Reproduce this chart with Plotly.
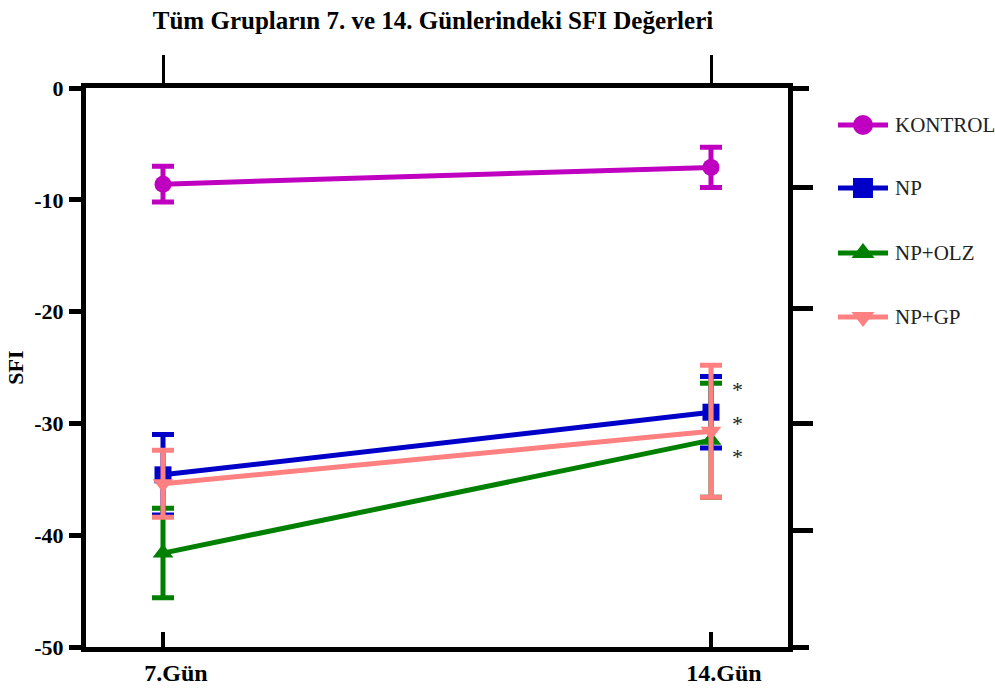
import plotly.graph_objects as go

# ---- data ----
days = ["7.Gün", "14.Gün"]
groups = ["KONTROL", "NP", "NP+OLZ", "NP+GP"]
kontrol_mean = [-8.6, -7.1]
kontrol_err = [1.6, 1.8]
np_mean = [-34.6, -29.0]
np_err = [3.6, 3.2]
olz_mean = [-41.6, -31.5]
olz_err = [4.0, 5.1]
gp_mean = [-35.4, -30.7]
gp_err = [3.0, 5.9]
star_y = [-27.0, -30.0, -33.0]
yticks = [0, -10, -20, -30, -40, -50]
right_ticks = [-8.9, -19.7, -30.0, -39.6]

means = [kontrol_mean, np_mean, olz_mean, gp_mean]
errs = [kontrol_err, np_err, olz_err, gp_err]
colors = ["#C000C0", "#0000C8", "#008000", "#FF8080"]
symbols = ["circle", "square", "triangle-up", "triangle-down"]
msizes = [17, 17, 18, 18]

W, H = 995, 691
FONT = "Liberation Serif"
xpos = list(range(len(days)))
XR = [-0.1405, 1.1405]
YR = [-50, 0]

fig = go.Figure()
for g, m, e, c, s, ms in zip(groups, means, errs, colors, symbols, msizes):
    fig.add_trace(go.Scatter(
        x=xpos, y=m, mode="lines+markers", name=g, showlegend=False,
        line=dict(color=c, width=5),
        marker=dict(symbol=s, size=ms, color=c),
        error_y=dict(type="data", array=e, visible=True, color=c, thickness=5, width=11),
        xaxis="x", yaxis="y",
    ))

# empty helper traces so the frame axes (top / right) get drawn
for xa, ya in [("x2", "y"), ("x", "y2"), ("x", "y3")]:
    fig.add_trace(go.Scatter(x=[None], y=[None], mode="markers", showlegend=False,
                             hoverinfo="skip", xaxis=xa, yaxis=ya))

# manual legend (pixel coordinates on hidden axes)
leg_rows = [125, 188, 253, 317]
for g, c, s, yy in zip(groups, colors, symbols, leg_rows):
    fig.add_trace(go.Scatter(
        x=[838, 888], y=[yy, yy], mode="lines", line=dict(color=c, width=5),
        showlegend=False, hoverinfo="skip", xaxis="x3", yaxis="y4"))
    fig.add_trace(go.Scatter(
        x=[863], y=[yy], mode="markers", marker=dict(symbol=s, size=20, color=c),
        showlegend=False, hoverinfo="skip", xaxis="x3", yaxis="y4"))
    fig.add_annotation(x=893, y=yy, xref="x3", yref="y4", text=g, showarrow=False,
                       xanchor="left", yanchor="middle",
                       font=dict(family=FONT, size=21, color="#222"))

# asterisks
for sy in star_y:
    fig.add_annotation(x=1, y=sy, xref="x", yref="y", text="*", showarrow=False,
                       xshift=26, yanchor="middle", font=dict(family=FONT, size=22, color="#222"))

axis_common = dict(showgrid=False, zeroline=False, linecolor="black", tickcolor="black")
fig.update_layout(
    width=W, height=H,
    margin=dict(l=0, r=0, t=88, b=44),
    paper_bgcolor="white", plot_bgcolor="rgba(0,0,0,0)",
    title=dict(text="<b>Tüm Grupların 7. ve 14. Günlerindeki SFI Değerleri</b>",
               x=433 / W, xanchor="center", y=1 - 20 / H, yanchor="middle",
               font=dict(family=FONT, size=25, color="black")),
    xaxis=dict(domain=[86 / W, 788 / W], range=XR, tickvals=xpos,
               ticktext=["<b>%s</b>" % d for d in days], ticks="inside", ticklen=15, tickwidth=4,
               showline=True, linewidth=5, anchor="y", mirror=True,
               tickfont=dict(family=FONT, size=24, color="black"), ticklabelstandoff=0,
               ticklabelshift=13,
               **axis_common),
    xaxis2=dict(domain=[86 / W, 788 / W], overlaying="x", range=XR, side="top", anchor="y",
                tickvals=xpos, ticks="outside", ticklen=28, tickwidth=3, showticklabels=False,
                showline=True, linewidth=5, **axis_common),
    yaxis=dict(range=YR, tickvals=yticks, ticktext=["<b>%d</b>" % v for v in yticks],
               ticks="outside", ticklen=12, tickwidth=5, showline=True, linewidth=5,
               anchor="x", mirror=True, tickfont=dict(family=FONT, size=22, color="black"),
               ticklabelstandoff=1,
               title=dict(text="<b>SFI</b>", font=dict(family=FONT, size=22, color="black"),
                          standoff=6),
               **axis_common),
    yaxis2=dict(overlaying="y", range=YR, side="right", anchor="x", tickvals=[0, -50],
                ticks="outside", ticklen=17, tickwidth=5, showline=True, linewidth=4,
                showticklabels=False, **axis_common),
    yaxis3=dict(overlaying="y", range=YR, side="right", anchor="x", tickvals=right_ticks,
                ticks="outside", ticklen=24, tickwidth=5, showline=False,
                showticklabels=False, **axis_common),
    xaxis3=dict(domain=[0, 1], range=[0, W], visible=False, anchor="y4", fixedrange=True),
    yaxis4=dict(domain=[0, 1], range=[H - 44, 88], visible=False, anchor="x3", fixedrange=True),
)

fig.write_html("out.html")
